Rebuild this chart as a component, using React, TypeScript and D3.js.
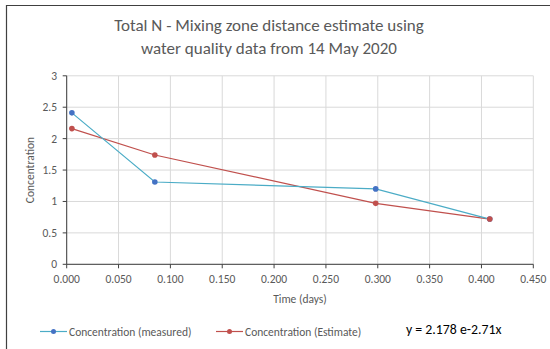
import React from "react";
import * as d3 from "d3";

const timeMeasured = [0.005, 0.085, 0.298, 0.408];
const concMeasured = [2.41, 1.31, 1.2, 0.72];
const timeEstimate = [0.005, 0.085, 0.298, 0.408];
const concEstimate = [2.16, 1.74, 0.97, 0.72];
const xTicks = [0, 0.05, 0.1, 0.15, 0.2, 0.25, 0.3, 0.35, 0.4, 0.45];
const yTicks = [0, 0.5, 1, 1.5, 2, 2.5, 3];
const titleLines = ["Total N - Mixing zone distance estimate using", "water quality data from 14 May 2020"];
const seriesNames = ["Concentration (measured)", "Concentration (Estimate)"];
const equation = "y = 2.178 e-2.71x";

const W = 550;
const H = 349;
const FONT = "Carlito, Calibri, 'Open Sans', sans-serif";

export default function App() {
  const x = d3.scaleLinear().domain([0, 0.45]).range([66.7, 533.3]);
  const y = d3.scaleLinear().domain([0, 3]).range([264.3, 75.8]);
  const line = d3
    .line<[number, number]>()
    .x((d) => x(d[0]))
    .y((d) => y(d[1]));
  const meas: [number, number][] = timeMeasured.map((t, i) => [t, concMeasured[i]]);
  const est: [number, number][] = timeEstimate.map((t, i) => [t, concEstimate[i]]);
  const blueLine = "#4BACC6";
  const blueMark = "#4472C4";
  const red = "#C0504D";
  const grey = "#595959";
  const small = 11.5;

  return (
    <svg
      width={W}
      height={H}
      style={{ position: "absolute", left: 0, top: 0, background: "#fff" }}
      fontFamily={FONT}
    >
      <rect x={0} y={0} width={W} height={H} fill="#fff" />
      {/* outer frame */}
      <line x1={6} y1={5.5} x2={W} y2={5.5} stroke="#404040" strokeWidth={1.2} />
      <line x1={6.5} y1={5} x2={6.5} y2={H} stroke="#404040" strokeWidth={1.2} />

      {/* title */}
      {titleLines.map((t, i) => (
        <text key={i} x={269} y={30.5 + i * 23} textAnchor="middle" fontSize={17} fill={grey}>
          {t}
        </text>
      ))}

      {/* gridlines */}
      {yTicks.map((v) => (
        <line key={"gy" + v} x1={x(0)} x2={x(0.45)} y1={y(v)} y2={y(v)} stroke="#d9d9d9" strokeWidth={1} />
      ))}
      {xTicks.map((v) => (
        <line key={"gx" + v} x1={x(v)} x2={x(v)} y1={y(0)} y2={y(3)} stroke="#d9d9d9" strokeWidth={1} />
      ))}

      {/* axes */}
      <line x1={x(0)} x2={x(0)} y1={y(0)} y2={y(3)} stroke="#404040" strokeWidth={1} />
      <line x1={x(0)} x2={x(0.45)} y1={y(0)} y2={y(0)} stroke="#404040" strokeWidth={1} />
      {yTicks.map((v) => (
        <g key={"ty" + v}>
          <line x1={x(0) - 4} x2={x(0)} y1={y(v)} y2={y(v)} stroke="#404040" />
          <text x={57} y={y(v) + 4} textAnchor="end" fontSize={small} fill={grey}>
            {d3.format("")(v)}
          </text>
        </g>
      ))}
      {xTicks.map((v) => (
        <g key={"tx" + v}>
          <line x1={x(v)} x2={x(v)} y1={y(0)} y2={y(0) + 4} stroke="#404040" />
          <text x={x(v)} y={283} textAnchor="middle" fontSize={small} fill={grey}>
            {d3.format(".3f")(v)}
          </text>
        </g>
      ))}

      {/* axis titles */}
      <text x={300} y={303} textAnchor="middle" fontSize={small} fill={grey}>
        Time (days)
      </text>
      <text transform="translate(33.5,170) rotate(-90)" textAnchor="middle" fontSize={small} fill={grey}>
        Concentration
      </text>

      {/* series */}
      <path d={line(est) || ""} fill="none" stroke={red} strokeWidth={1.2} />
      <path d={line(meas) || ""} fill="none" stroke={blueLine} strokeWidth={1.2} />
      {meas.map((d, i) => (
        <circle key={"m" + i} cx={x(d[0])} cy={y(d[1])} r={2.8} fill={blueMark} />
      ))}
      {est.map((d, i) => (
        <circle key={"e" + i} cx={x(d[0])} cy={y(d[1])} r={2.8} fill={red} />
      ))}

      {/* legend */}
      <line x1={40} x2={67} y1={331.5} y2={331.5} stroke={blueLine} strokeWidth={1.2} />
      <circle cx={53.5} cy={331.5} r={2.5} fill={blueMark} />
      <text x={69} y={335.5} fontSize={small} fill={grey}>
        {seriesNames[0]}
      </text>
      <line x1={216} x2={243} y1={331.5} y2={331.5} stroke={red} strokeWidth={1.2} />
      <circle cx={229.5} cy={331.5} r={2.5} fill={red} />
      <text x={245} y={335.5} fontSize={small} fill={grey}>
        {seriesNames[1]}
      </text>

      <text x={406} y={333.5} fontSize={13.8} fill="#000">
        {equation}
      </text>
    </svg>
  );
}
